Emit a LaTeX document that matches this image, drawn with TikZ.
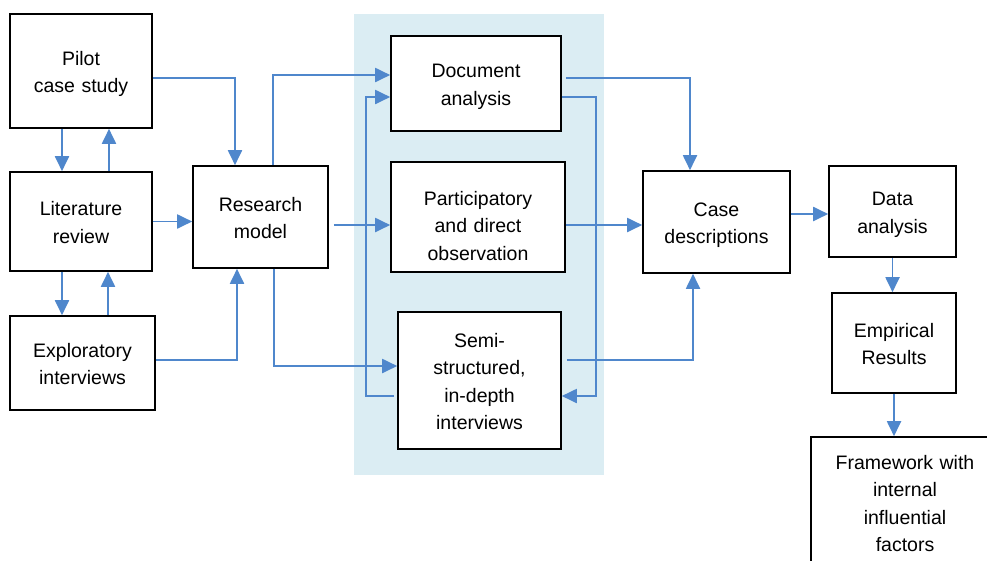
\documentclass[tikz,border=0pt]{standalone}
\usepackage{fontspec}
\setmainfont{Liberation Sans}
\usetikzlibrary{arrows.meta}
\definecolor{flow}{RGB}{79,135,204}
\definecolor{panel}{RGB}{219,237,243}
\begin{document}
\begin{tikzpicture}[x=1pt,y=-1pt,
  box/.style={draw=black,line width=1.6pt,fill=white,align=center,inner sep=0pt,
    font=\fontsize{19.5}{27.5}\selectfont,
    execute at begin node={\rule{0pt}{20pt}},
    execute at end node={\rule[-4.5pt]{0pt}{0pt}}},
  sz/.style 2 args={minimum width=#1,text width=#1,minimum height=#2},
  arr/.style={draw=flow,line width=1.9pt,-{Triangle[length=15pt,width=14pt]}}]
\useasboundingbox (0,0) rectangle (987,560);
\clip (0,0) rectangle (987,560);

% shaded panel behind the data-collection methods
\fill[panel] (354,14) rectangle (604,475);

% boxes
\node[box,sz={142pt}{114pt}] (pilot) at (81,71) {Pilot\\case study};
\node[box,sz={142pt}{99pt}] (lit) at (81,221.5) {Literature\\review};
\node[box,sz={145pt}{94pt}] (expl) at (82.5,363) {Exploratory\\interviews};
\node[box,sz={135pt}{102pt}] (rm) at (260.5,217) {Research\\model};
\node[box,sz={170pt}{95pt}] (doc) at (476,83.5) {Document\\analysis};
\node[box,sz={174pt}{110pt},execute at begin node={\rule{0pt}{36pt}}] (part) at (478,217)
  {Participatory\\and direct\\observation};
\node[box,sz={163pt}{137pt}] (semi) at (479.5,380.5) {Semi-\\structured,\\in-depth\\interviews};
\node[box,sz={147pt}{102pt}] (case) at (716.5,222) {Case\\descriptions};
\node[box,sz={127pt}{91pt}] (data) at (892.5,211.5) {Data\\analysis};
\node[box,sz={124pt}{100pt}] (emp) at (894,343) {Empirical\\Results};
\node[box,sz={188pt}{131pt}] (frame) at (905,502.5) {Framework with\\internal\\influential\\factors};

% left column, two-way links
\draw[arr] ([xshift=-19pt]pilot.south) -- ([xshift=-19pt]pilot.south |- lit.north);
\draw[arr] ([xshift=28pt]lit.north) -- ([xshift=28pt]lit.north |- pilot.south);
\draw[arr] ([xshift=-19pt]lit.south) -- ([xshift=-19pt]lit.south |- expl.north);
\draw[arr] ([xshift=27pt]lit.south |- expl.north) -- ([xshift=27pt]lit.south);

% inputs to the research model
\draw[arr] ([yshift=-7pt]pilot.east) -| ([xshift=-25.5pt]rm.north);
\draw[arr] (lit.east) -- (lit.east -| rm.west);
\draw[arr] ([yshift=3pt]expl.east) -| ([xshift=-23.5pt]rm.south);

% research model to the methods
\draw[arr] ([xshift=12.5pt]rm.north) |- ([yshift=8.5pt]doc.west);
\draw[arr] ([xshift=5pt,yshift=-8pt]rm.east) -- ([yshift=-8pt]part.west);
\draw[arr] ([xshift=13.5pt]rm.south) |- ([yshift=14.5pt]semi.west);

% feedback loops between document analysis and interviews
\draw[arr] ([xshift=-3pt,yshift=-15.5pt]semi.west) -- ++(-28,0) |- ([yshift=-13.5pt]doc.west);
\draw[arr] ([yshift=-13.5pt]doc.east) -- ++(34,0) |- ([yshift=-15.5pt]semi.east);

% methods to case descriptions
\draw[arr] ([xshift=4pt,yshift=5.5pt]doc.east) -| ([xshift=-26.5pt]case.north);
\draw[arr] ([yshift=-8pt]part.east) -- ([yshift=-8pt]part.east -| case.west);
\draw[arr] ([xshift=5pt,yshift=20.5pt]semi.east) -| ([xshift=-23.5pt]case.south);

% analysis chain
\draw[arr] ([yshift=8pt]case.east) -- ([yshift=8pt]case.east -| data.west);
\draw[arr] (data.south) -- (data.south |- emp.north);
\draw[arr] (emp.south) -- (emp.south |- frame.north);
\end{tikzpicture}
\end{document}
